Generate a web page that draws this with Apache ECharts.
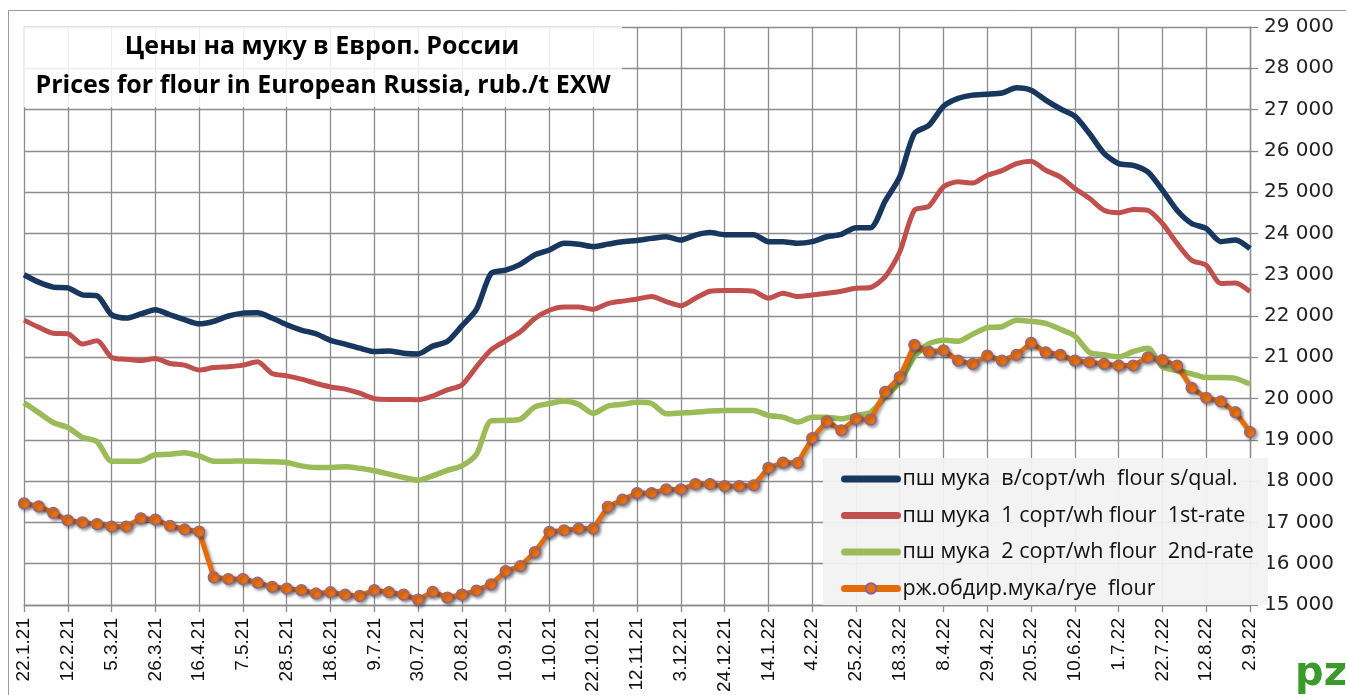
<!DOCTYPE html>
<html>
<head>
<meta charset="utf-8">
<script src="https://cdn.jsdelivr.net/npm/echarts@6/dist/echarts.min.js"></script>
<style>
  html, body { margin: 0; padding: 0; background: #fff; }
  #chart { width: 1346px; height: 695px; }
</style>
</head>
<body>
<div id="chart"></div>
<script>
// недельные даты
var dates = [
  "22.1.21","29.1.21","5.2.21","12.2.21","19.2.21","26.2.21","5.3.21","12.3.21","19.3.21","26.3.21",
  "2.4.21","9.4.21","16.4.21","23.4.21","30.4.21","7.5.21","14.5.21","21.5.21","28.5.21","4.6.21",
  "11.6.21","18.6.21","25.6.21","2.7.21","9.7.21","16.7.21","23.7.21","30.7.21","6.8.21","13.8.21",
  "20.8.21","27.8.21","3.9.21","10.9.21","17.9.21","24.9.21","1.10.21","8.10.21","15.10.21","22.10.21",
  "29.10.21","5.11.21","12.11.21","19.11.21","26.11.21","3.12.21","10.12.21","17.12.21","24.12.21","31.12.21",
  "7.1.22","14.1.22","21.1.22","28.1.22","4.2.22","11.2.22","18.2.22","25.2.22","4.3.22","11.3.22",
  "18.3.22","25.3.22","1.4.22","8.4.22","15.4.22","22.4.22","29.4.22","6.5.22","13.5.22","20.5.22",
  "27.5.22","3.6.22","10.6.22","17.6.22","24.6.22","1.7.22","8.7.22","15.7.22","22.7.22","29.7.22",
  "5.8.22","12.8.22","19.8.22","26.8.22","2.9.22"
];

// пш мука в/сорт
var topGrade = [
  23000,22820,22700,22680,22510,22490,22030,21950,22050,22150,
  22030,21910,21810,21870,22000,22070,22080,21950,21790,21660,
  21570,21410,21320,21220,21140,21150,21100,21080,21270,21380,
  21760,22160,23030,23110,23250,23480,23600,23760,23740,23680,
  23740,23800,23830,23880,23920,23840,23960,24020,23970,23970,
  23970,23800,23800,23760,23800,23920,23980,24140,24140,24780,
  25370,26420,26620,27080,27270,27350,27370,27400,27530,27470,
  27230,27020,26840,26420,25940,25690,25650,25490,25050,24560,
  24240,24120,23800,23840,23630
];

// пш мука 1 сорт
var firstGrade = [
  21900,21730,21580,21570,21320,21400,21000,20950,20920,20970,
  20850,20810,20690,20750,20770,20810,20890,20610,20550,20470,
  20370,20280,20230,20130,20000,19980,19980,19970,20060,20210,
  20330,20770,21180,21400,21620,21940,22140,22220,22220,22160,
  22300,22360,22410,22470,22350,22250,22430,22600,22620,22620,
  22600,22430,22550,22470,22510,22550,22600,22670,22690,22950,
  23550,24560,24660,25130,25250,25220,25410,25520,25690,25750,
  25530,25370,25090,24850,24560,24500,24580,24560,24240,23760,
  23350,23230,22790,22800,22590
];

// пш мука 2 сорт
var secondGrade = [
  19900,19660,19420,19300,19060,18960,18480,18480,18490,18640,
  18650,18690,18610,18480,18480,18490,18480,18470,18450,18370,
  18330,18330,18350,18310,18250,18170,18090,18020,18130,18260,
  18370,18650,19460,19470,19500,19800,19880,19940,19860,19640,
  19820,19860,19910,19880,19630,19650,19670,19700,19710,19710,
  19710,19590,19550,19430,19550,19550,19510,19590,19670,20040,
  20400,21010,21330,21410,21390,21560,21720,21740,21900,21870,
  21820,21680,21520,21120,21060,21010,21140,21220,20770,20680,
  20600,20510,20510,20490,20350
];

// рж. обдирная мука
var ryeFlour = [
  17460,17390,17230,17050,17000,16960,16900,16900,17100,17070,
  16920,16830,16780,15670,15630,15630,15540,15440,15400,15360,
  15280,15310,15250,15220,15360,15310,15250,15130,15320,15180,
  15250,15350,15500,15820,15940,16280,16770,16810,16850,16850,
  17380,17550,17710,17710,17800,17800,17930,17930,17880,17880,
  17900,18320,18450,18440,19040,19450,19230,19510,19490,20160,
  20520,21300,21130,21170,20920,20840,21040,20920,21060,21350,
  21120,21060,20920,20880,20840,20800,20800,21000,20930,20800,
  20260,20020,19930,19670,19190
];

var seriesNames = [
  "пш мука  в/сорт/wh  flour s/qual.",
  "пш мука  1 сорт/wh flour  1st-rate",
  "пш мука  2 сорт/wh flour  2nd-rate",
  "рж.обдир.мука/rye  flour"
];

var gridColor = "#8c8c8c";

var chart = echarts.init(document.getElementById("chart"));
chart.setOption({
  animation: false,
  backgroundColor: "#fff",
  grid: { left: 24, right: 96, top: 27, bottom: 90 },
  legend: {
    orient: "vertical",
    left: 836,
    top: 463,
    z: 20,
    itemWidth: 53,
    itemHeight: 13,
    itemGap: 14.5,
    lineStyle: { width: 7, cap: "round" },
    data: [
      { name: seriesNames[0], itemStyle: { opacity: 0 } },
      { name: seriesNames[1], itemStyle: { opacity: 0 } },
      { name: seriesNames[2], itemStyle: { opacity: 0 } },
      { name: seriesNames[3] }
    ],
    textStyle: { fontFamily: "Open Sans", fontSize: 21.5, color: "#111" }
  },
  xAxis: {
    type: "category",
    data: dates,
    boundaryGap: false,
    axisLine: { lineStyle: { color: gridColor, width: 1.3 } },
    axisTick: { show: true, interval: 2, length: 7, lineStyle: { color: gridColor, width: 1.3 } },
    axisLabel: {
      interval: 2, rotate: 90, margin: 13,
      fontFamily: "Liberation Sans", fontSize: 19, color: "#111"
    },
    splitLine: { show: true, interval: 2, lineStyle: { color: gridColor, width: 1.3 } }
  },
  yAxis: {
    type: "value",
    position: "right",
    min: 15000,
    max: 29000,
    interval: 1000,
    axisLine: { show: true, lineStyle: { color: gridColor, width: 1.3 } },
    axisTick: { show: true, length: 8, lineStyle: { color: gridColor, width: 1.3 } },
    axisLabel: {
      margin: 14,
      fontFamily: "DejaVu Sans", fontSize: 20, color: "#222",
      formatter: function (v) {
        return String(v).replace(/\B(?=(\d{3})+(?!\d))/g, " ");
      }
    },
    splitLine: { lineStyle: { color: gridColor, width: 1.3 } }
  },
  graphic: [
    { type: "rect", z: 1, silent: true,
      shape: { x: 8.5, y: 10.5, width: 1500, height: 900 },
      style: { fill: null, stroke: "#999", lineWidth: 1 } },
    { type: "rect", z: 10, silent: true,
      shape: { x: 24, y: 27, width: 598, height: 80 },
      style: { fill: "rgba(255,255,255,0.85)" } },
    { type: "text", z: 11, silent: true,
      style: { text: "Цены на муку в Европ. России", x: 322, y: 47,
        textAlign: "center", textVerticalAlign: "middle",
        font: "bold 25px 'Open Sans'", fill: "#000" } },
    { type: "text", z: 11, silent: true,
      style: { text: "Prices for flour in European Russia, rub./t EXW", x: 323, y: 86,
        textAlign: "center", textVerticalAlign: "middle",
        font: "bold 25px 'Open Sans'", fill: "#000" } },
    { type: "rect", z: 10, silent: true,
      shape: { x: 823, y: 458, width: 445, height: 147 },
      style: { fill: "rgba(242,242,242,0.94)" } },
    { type: "text", z: 11, silent: true,
      style: { text: "pz", x: 1295, y: 655,
        font: "bold 40px 'DejaVu Sans'", fill: "#3c9a2c" } }
  ],
  series: [
    {
      name: seriesNames[0], type: "line", data: topGrade,
      smooth: 0.25, symbol: "none",
      itemStyle: { color: "#17375e" },
      lineStyle: { color: "#17375e", width: 5.5 }
    },
    {
      name: seriesNames[1], type: "line", data: firstGrade,
      smooth: 0.25, symbol: "none",
      itemStyle: { color: "#c0504d" },
      lineStyle: { color: "#c0504d", width: 5 }
    },
    {
      name: seriesNames[2], type: "line", data: secondGrade,
      smooth: 0.25, symbol: "none",
      itemStyle: { color: "#9bbb59" },
      lineStyle: { color: "#9bbb59", width: 5.5 }
    },
    {
      name: seriesNames[3], type: "line", data: ryeFlour,
      symbol: "circle", symbolSize: 11, showAllSymbol: true,
      itemStyle: {
        color: "#e8700f", borderColor: "#8064a2", borderWidth: 1.2,
        shadowColor: "rgba(0,0,0,0.35)", shadowBlur: 3, shadowOffsetX: 2, shadowOffsetY: 2
      },
      lineStyle: {
        color: "#e46c0a", width: 5,
        shadowColor: "rgba(0,0,0,0.35)", shadowBlur: 3, shadowOffsetX: 2, shadowOffsetY: 2
      }
    }
  ]
});
</script>
</body>
</html>
